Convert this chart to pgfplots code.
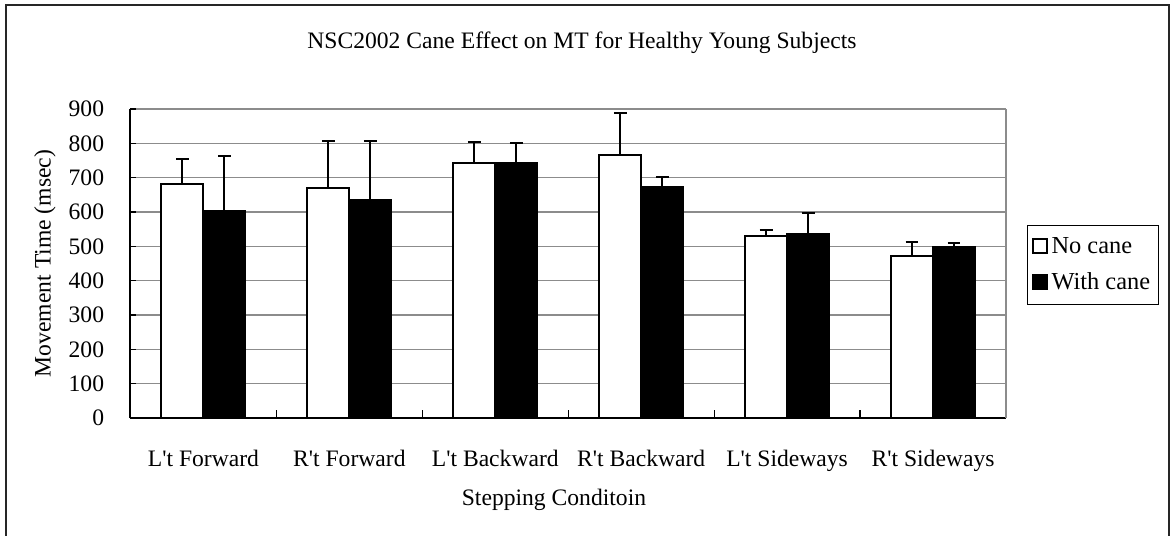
\documentclass[border=0pt]{standalone}
\usepackage{fontspec}
\setmainfont{Liberation Serif}
\usepackage{pgfplots}
\usepackage{pgfplotstable}
\pgfplotsset{compat=1.18}

\pgfplotstableread{
x nocane nocaneerr withcane withcaneerr
0 681 73 603 160
1 671 135 634 172
2 744 60 743 57
3 765 124 674 27
4 531 17 536 61
5 473 40 499 10
}\data

\begin{document}
\begin{tikzpicture}[font=\fontsize{11.8}{13.5}\selectfont]
\path[use as bounding box] (-65.25pt,-58.5pt) rectangle (520.25pt,209pt);
\draw[line width=1pt, black!85] (-62.4pt,-70pt) -- (-62.4pt,206.5pt) -- (519.1pt,206.5pt) -- (519.1pt,-70pt);
\begin{axis}[
  at={(0,0)}, anchor=south west,
  scale only axis, width=437.75pt, height=154.5pt,
  ybar=0pt, bar width=0.288,
  xmin=-0.5, xmax=5.5, ymin=0, ymax=900,
  axis lines=left, axis line style={-, line width=1pt, black},
  ytick={0,100,...,900},
  ymajorgrids, grid style={gray!90, line width=0.6pt},
  ytick style={line width=0.6pt, black}, tick align=inside, major tick length=3pt,
  xtick={0,...,5},
  xticklabels={L\textquotesingle t Forward, R\textquotesingle t Forward, L\textquotesingle t Backward, R\textquotesingle t Backward, L\textquotesingle t Sideways, R\textquotesingle t Sideways},
  x tick style={draw=none},
  extra x ticks={0.5,1.5,2.5,3.5,4.5}, extra x tick labels={},
  extra x tick style={x tick style={draw=black, line width=0.6pt}, tick align=inside, major tick length=4pt, grid=none},
  /pgf/number format/assume math mode=true,
  yticklabel style={inner sep=0pt, anchor=east, xshift=-13pt},
  xticklabel style={inner sep=0pt, anchor=base, yshift=-24pt},
  title={NSC2002 Cane Effect on MT for Healthy Young Subjects},
  title style={at={(0.5157,1.175)}, anchor=center, inner sep=0pt},
  xlabel={Stepping Conditoin},
  xlabel style={at={(0.4837,-0.265)}, anchor=center, inner sep=0pt},
  ylabel={Movement Time (msec)},
  ylabel style={at={(-0.0977,0.5)}, anchor=center, rotate=0, inner sep=0pt},
  legend style={at={(1.024,0.625)}, anchor=north west, draw=black, line width=0.5pt,
    inner xsep=2pt, inner ysep=4pt, row sep=4pt, cells={anchor=west},
    font=\fontsize{12.2}{14}\selectfont},
  legend image code/.code={\draw[#1, line width=1pt] (0pt,-3.2pt) rectangle (7pt,3.8pt);},
  after end axis/.code={\draw[gray!90, line width=0.6pt] (rel axis cs:1,0) -- (rel axis cs:1,1);},
  error bars/y dir=plus, error bars/y explicit,
  error bars/error bar style={line width=1pt, black},
  error bars/error mark options={rotate=90, mark size=3.2pt, line width=1pt, black},
]
\addplot[draw=black, fill=white, line width=1pt] table[x=x, y=nocane, y error=nocaneerr] {\data};
\addplot[draw=black, fill=black, line width=1pt] table[x=x, y=withcane, y error=withcaneerr] {\data};
\legend{No cane\hspace{7pt}, With cane\hspace{7pt}}
\end{axis}
\end{tikzpicture}
\end{document}
